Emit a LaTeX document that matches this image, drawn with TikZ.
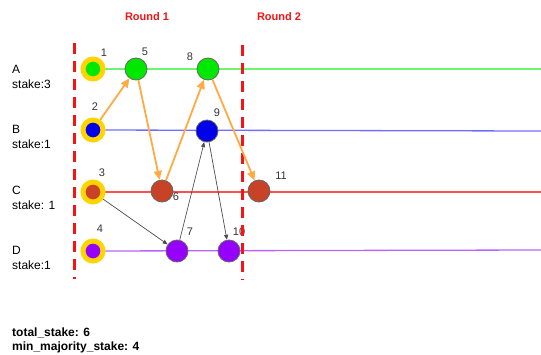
\documentclass[tikz,border=0pt]{standalone}
\usepackage{fontspec}
\setmainfont{Liberation Sans}
\usetikzlibrary{arrows.meta,backgrounds}

\definecolor{ringyellow}{RGB}{255,212,0}
\definecolor{fillA}{RGB}{0,232,0}
\definecolor{fillB}{RGB}{0,0,235}
\definecolor{fillC}{RGB}{200,66,40}
\definecolor{fillD}{RGB}{150,0,255}
\definecolor{lineA}{RGB}{110,245,110}
\definecolor{lineB}{RGB}{110,110,255}
\definecolor{lineC}{RGB}{255,80,80}
\definecolor{lineD}{RGB}{185,100,255}
\definecolor{vote}{RGB}{255,170,66}
\definecolor{roundred}{RGB}{245,20,20}

\tikzset{
  genesis/.style={circle, draw=ringyellow, line width=5pt,
    minimum size=20pt, inner sep=0pt},
  event/.style={circle, draw=black!60, line width=0.8pt,
    minimum size=22pt, inner sep=0pt},
}

\begin{document}
\begin{tikzpicture}[x=1pt,y=-1pt]
  \useasboundingbox (0,0) rectangle (541,354);
  \begin{scope}[every node/.style={font=\fontsize{11}{13}\selectfont\bfseries,
      text=roundred}]
    \node (round-1) at (147,17) {Round 1};
    \node (round-2) at (279,17) {Round 2};
  \end{scope}
  \begin{scope}[every node/.style={font=\fontsize{12}{15.5}\selectfont,
      align=left, anchor=west, inner sep=0pt}]
    \node (peer-a) at (12,77) {A\\stake:3};
    \node (peer-b) at (12,137) {B\\stake:1};
    \node (peer-c) at (12,198) {C\\stake: 1};
    \node (peer-d) at (12,258) {D\\stake:1};
    \node[font=\fontsize{12}{14}\selectfont\bfseries] (stake-info) at (12,340)
      {total\_stake: 6\\min\_majority\_stake: 4};
  \end{scope}
  \node[genesis, fill=fillA] (ev-1) at (93,69) {};
  \node[genesis, fill=fillB] (ev-2) at (93,130) {};
  \node[genesis, fill=fillC] (ev-3) at (93,192) {};
  \node[genesis, fill=fillD] (ev-4) at (93,251) {};
  \node[event, fill=fillA] (ev-5) at (136,69) {};
  \node[event, fill=fillC] (ev-6) at (162,191) {};
  \node[event, fill=fillD] (ev-7) at (177,251) {};
  \node[event, fill=fillA] (ev-8) at (208,69) {};
  \node[event, fill=fillB] (ev-9) at (207,131) {};
  \node[event, fill=fillD] (ev-10) at (229,251) {};
  \node[event, fill=fillC] (ev-11) at (259,191) {};
  \begin{scope}[every node/.style={font=\fontsize{11}{13}\selectfont,
      text=black!80, inner sep=0pt}]
    \node (num-1) at (104,53) {1};
    \node (num-2) at (95,107) {2};
    \node (num-3) at (102,173) {3};
    \node (num-4) at (100,229) {4};
    \node (num-5) at (145,52) {5};
    \node (num-6) at (176,197) {6};
    \node (num-7) at (190,232) {7};
    \node (num-8) at (190,57) {8};
    \node (num-9) at (217,113) {9};
    \node (num-10) at (239,232) {10};
    \node (num-11) at (281,176) {11};
  \end{scope}
  \coordinate (line-a-end) at (541,69);
  \coordinate (line-b-end) at (541,131);
  \coordinate (line-c-end) at (541,192);
  \coordinate (line-d-end) at (541,250);
  \coordinate (round-1-top) at (74,43);
  \coordinate (round-1-bottom) at (74,279);
  \coordinate (round-2-top) at (242,45);
  \coordinate (round-2-bottom) at (242,280);
  \begin{pgfonlayer}{background}
    \begin{scope}[every path/.style={draw, line width=1.3pt}]
      \path[lineA] (ev-1.center) -- (line-a-end);
      \path[lineB] (ev-2.center) -- (line-b-end);
      \path[lineC] (ev-3.center) -- (line-c-end);
      \path[lineD] (ev-4.center) -- (line-d-end);
    \end{scope}
  \end{pgfonlayer}
  \begin{scope}[every path/.style={draw, roundred, line width=3pt,
      dash pattern=on 11pt off 7pt}]
    \path (round-1-top) -- (round-1-bottom);
    \path (round-2-top) -- (round-2-bottom);
  \end{scope}
  \begin{scope}[every path/.style={draw, vote, line width=1.8pt,
      -{Triangle[length=9pt,width=8pt]}}]
    \path (ev-2) -- (ev-5);
    \path (ev-5) -- (ev-6);
    \path (ev-6) -- (ev-8);
    \path (ev-8) -- (ev-11);
  \end{scope}
  \begin{scope}[every path/.style={draw, black!70, line width=0.7pt,
      -{Triangle[length=5pt,width=4pt]}}]
    \path (ev-3) -- (ev-7);
    \path (ev-7) -- (ev-9);
    \path (ev-9) -- (ev-10);
  \end{scope}
\end{tikzpicture}
\end{document}
